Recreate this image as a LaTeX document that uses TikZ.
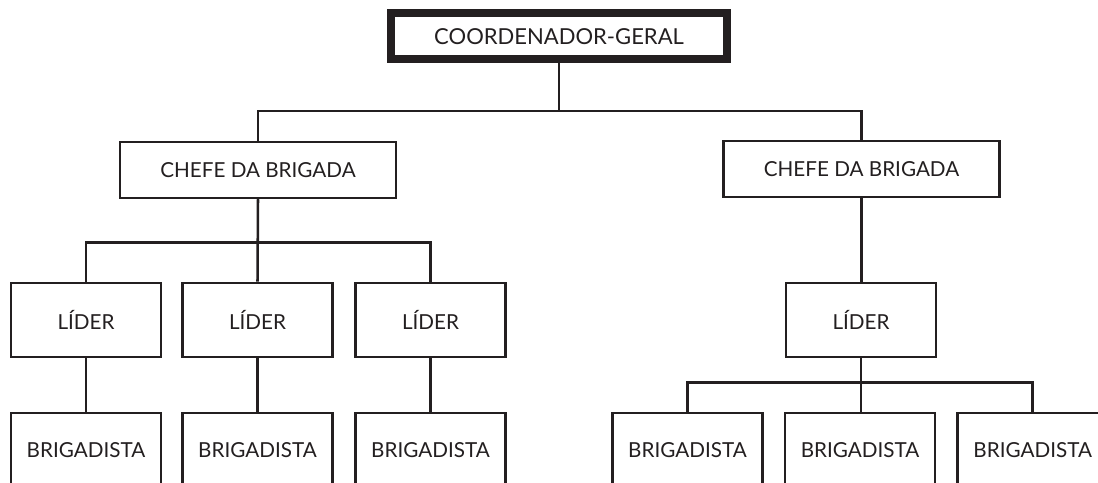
\documentclass[tikz,border=0pt]{standalone}
\usepackage{fontspec}
\setmainfont{Lato}
\usepackage{tikz}
\definecolor{ink}{HTML}{231F20}

\tikzset{
  topbox/.style={draw=ink,line width=6pt,minimum width=252pt,minimum height=34.5pt,inner sep=0pt,text=ink,font=\fontsize{16.5}{19}\selectfont},
  chefebox/.style={draw=ink,line width=1.9pt,minimum width=207pt,minimum height=42pt,inner sep=0pt,text=ink,font=\fontsize{15.5}{18}\selectfont},
  membox/.style={draw=ink,line width=1.9pt,minimum width=112.5pt,minimum height=55.5pt,inner sep=0pt,text=ink,font=\fontsize{15.5}{18}\selectfont},
  link/.style={draw=ink,line width=1.9pt}
}

\begin{document}
\begin{tikzpicture}[x=0.75pt,y=-0.75pt]
\useasboundingbox (0,0) rectangle (1098,482);

\node[topbox] (coord) at (559,36.3) {COORDENADOR-GERAL};

\node[chefebox] (chefeA) at (258,170) {CHEFE DA BRIGADA};
\node[chefebox] (chefeB) at (861.5,169) {CHEFE DA BRIGADA};

\node[membox] (liderA) at (86,320) {LÍDER};
\node[membox] (liderB) at (257.5,320) {LÍDER};
\node[membox] (liderC) at (430.5,320) {LÍDER};
\node[membox] (liderD) at (861,320) {LÍDER};

\node[membox] (brigA) at (86,450) {BRIGADISTA};
\node[membox] (brigB) at (257.5,450) {BRIGADISTA};
\node[membox] (brigC) at (430.5,450) {BRIGADISTA};
\node[membox] (brigD) at (687.5,450) {BRIGADISTA};
\node[membox] (brigE) at (860,450) {BRIGADISTA};
\node[membox] (brigF) at (1032.7,450) {BRIGADISTA};

\draw[link] (coord.south) -- ++(0,47.5) -| (chefeA.north);
\draw[link] (coord.south) -- ++(0,47.5) -| (chefeB.north);

\draw[link] (chefeA.south) -- ++(0,43) -| (liderA.north);
\draw[link] (chefeA.south) -- (liderB.north);
\draw[link] (chefeA.south) -- ++(0,43) -| (liderC.north);
\draw[link] (chefeB.south) -- (chefeB.south |- liderD.north);

\draw[link] (liderA.south) -- (brigA.north);
\draw[link] (liderB.south) -- (brigB.north);
\draw[link] (liderC.south) -- (brigC.north);

\draw[link] (liderD.south) -- ++(0,24) -| (brigD.north);
\draw[link] (liderD.south) -- (liderD.south |- brigE.north);
\draw[link] (liderD.south) -- ++(0,24) -| (brigF.north);
\end{tikzpicture}
\end{document}
